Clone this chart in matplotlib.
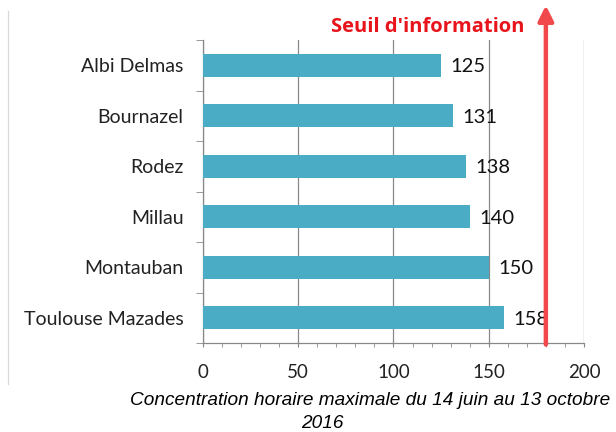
import matplotlib
matplotlib.use("Agg")
import matplotlib.pyplot as plt
from matplotlib.ticker import MultipleLocator

stations = ["Toulouse Mazades", "Montauban", "Millau", "Rodez", "Bournazel", "Albi Delmas"]
max_conc = [158, 150, 140, 138, 131, 125]
threshold = 180
x_ticks = [0, 50, 100, 150, 200]

bar_color = "#4BACC6"
grid_color = "#888888"
red = "#F0484B"

fig = plt.figure(figsize=(6.16, 4.32), dpi=100)
ax = fig.add_axes([0.3295, 0.206, 0.6185, 0.701])

ypos = list(range(len(stations)))
ax.barh(ypos, max_conc, height=0.46, color=bar_color, zorder=3)

for y, v in zip(ypos, max_conc):
    ax.annotate(str(v), xy=(v, y), xytext=(7, -1), textcoords="offset points",
                ha="left", va="center", fontsize=14.5, family="Lato", color="#111111",
                zorder=5)

ax.set_xlim(0, 200)
ax.set_ylim(-0.5, len(stations) - 0.5)
ax.set_xticks(x_ticks)
ax.xaxis.set_minor_locator(MultipleLocator(10))
ax.set_yticks(ypos)
ax.set_yticklabels(stations, family="Lato", fontsize=14, color="#222222")
ax.set_yticks([y - 0.5 for y in ypos] + [len(stations) - 0.5], minor=True)
ax.tick_params(axis="y", which="major", length=0, pad=14)
ax.tick_params(axis="y", which="minor", length=5, color=grid_color, direction="out")
ax.tick_params(axis="x", which="both", length=3, color=grid_color)
ax.tick_params(axis="x", which="major", pad=12, labelsize=13.5, labelcolor="#222222")
for lab in ax.get_xticklabels():
    lab.set_family("Lato")

ax.grid(axis="x", which="major", color=grid_color, linewidth=0.9, zorder=0)
for s in ["top", "right"]:
    ax.spines[s].set_visible(False)
for s in ["left", "bottom"]:
    ax.spines[s].set_color(grid_color)
    ax.spines[s].set_linewidth(0.9)

# threshold arrow
ax.annotate("", xy=(threshold, 1.115), xycoords=("data", "axes fraction"),
            xytext=(threshold, -0.005), textcoords=("data", "axes fraction"),
            arrowprops=dict(arrowstyle="-|>,head_length=0.9,head_width=0.45",
                            color=red, lw=3.2, shrinkA=0, shrinkB=0),
            annotation_clip=False, zorder=6)
ax.text(0.851, 0.937, "Seuil d'information", transform=fig.transFigure,
        ha="right", va="center", color="#E8141C", fontsize=14.5,
        fontweight="bold", family="Open Sans")

# frame line at left of chart area
fig.add_artist(plt.Line2D([0.013, 0.013], [0.11, 0.975], color="#D9D9D9", lw=0.9))

fig.text(0.601, 0.074, "Concentration horaire maximale du 14 juin au 13 octobre",
         ha="center", va="center", fontsize=13.7, style="italic", family="Liberation Sans")
fig.text(0.523, 0.019, "2016", ha="center", va="center", fontsize=13.7,
         style="italic", family="Liberation Sans")

fig.savefig("out.png", dpi=100)
